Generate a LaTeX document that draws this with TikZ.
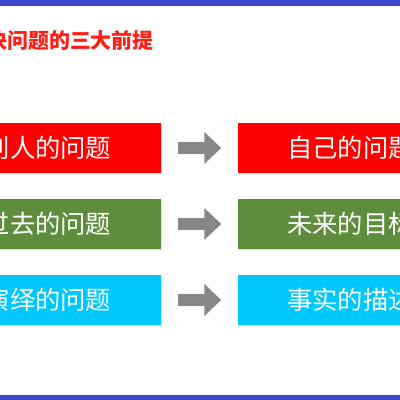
\documentclass[tikz,border=0pt]{standalone}
\usepackage{fontspec}
\usetikzlibrary{arrows.meta,positioning,shadows}
\newfontfamily\cjk{Noto Sans CJK SC}
\definecolor{barc}{RGB}{64,70,204}
\definecolor{ttl}{RGB}{255,30,20}
\definecolor{rd}{RGB}{255,0,0}
\definecolor{gr}{RGB}{94,142,60}
\definecolor{cy}{RGB}{0,200,255}
\definecolor{arrc}{RGB}{135,135,135}
\tikzset{
  box/.style={rectangle,fill=#1,text=white,
    minimum width=5.65cm,minimum height=1.25cm,inner sep=0pt,
    font=\cjk\fontsize{18}{18}\selectfont,
    drop shadow={opacity=0.25,shadow xshift=0.03cm,shadow yshift=-0.03cm}},
  box/.default=rd,
  arr/.style={-{Triangle[length=0.425cm,width=0.775cm]},line width=0.3cm,
    color=arrc,shorten <=0.425cm,shorten >=0.4cm},
}
\begin{document}
\begin{tikzpicture}
  \useasboundingbox (0,0) rectangle (10,10);
  \clip (0,0) rectangle (10,10);

  % ── Bars ───────────────────────────────────────────────────────────────────
  \fill[barc] (0,9.85) rectangle (10,10);
  \fill[barc] (0,0) rectangle (10,0.125);

  % ── Title ──────────────────────────────────────────────────────────────────
  \node[anchor=west,inner sep=0pt,text=ttl,font=\cjk\bfseries\fontsize{14.9}{15}\selectfont]
    (title) at (-0.875,8.99) {解决问题的三大前提};

  % ── Rows ───────────────────────────────────────────────────────────────────
  \node[box=rd] (l1) at (1.2,6.3) {别人的问题};
  \node[box=rd,right=1.9cm of l1] (r1) {自己的问题};
  \draw[arr] (l1)--(r1);

  \node[box=gr] (l2) at (1.2,4.4) {过去的问题};
  \node[box=gr,right=1.9cm of l2] (r2) {未来的目标};
  \draw[arr] (l2)--(r2);

  \node[box=cy] (l3) at (1.2,2.5) {演绎的问题};
  \node[box=cy,right=1.9cm of l3] (r3) {事实的描述};
  \draw[arr] (l3)--(r3);

\end{tikzpicture}
\end{document}
